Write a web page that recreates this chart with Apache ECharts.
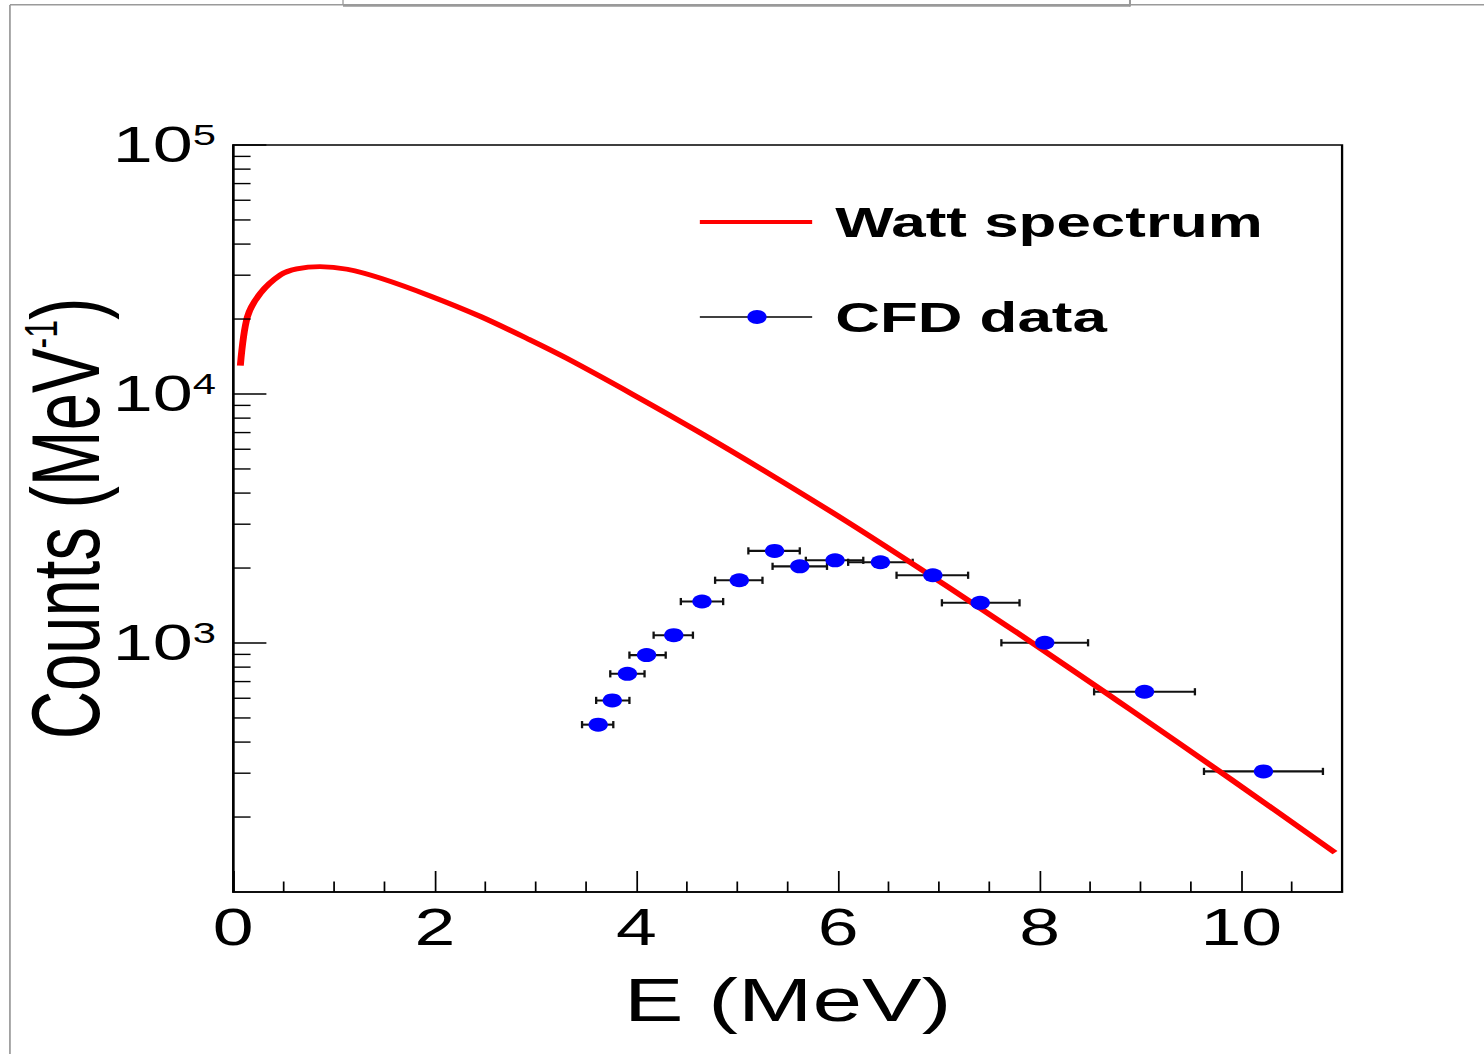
<!DOCTYPE html>
<html><head><meta charset="utf-8">
<script src="https://cdn.jsdelivr.net/npm/echarts@6/dist/echarts.min.js"></script>
<style>
html,body{margin:0;padding:0;background:#fff;overflow:hidden;}
#wrap{width:1484px;height:1054px;overflow:hidden;position:relative;background:#fff;}
#chart{width:1031px;height:1054px;transform:scaleX(1.44);transform-origin:0 0;}
</style></head><body><div id="wrap"><div id="chart"></div></div>
<script>
// ---- data ----
const wattE      = [0.07, 0.14, 0.27, 0.47, 0.63, 0.86, 1.13, 1.46, 1.95, 2.45, 2.93, 3.31, 3.97, 4.63, 5.30, 6.09, 6.78, 7.41, 7.91, 8.67, 8.90, 9.89, 10.93];
const wattCounts = [13000, 20400, 25400, 30100, 31800, 32500, 31700, 29200, 24800, 20500, 16600, 13900, 9930, 7000, 4830, 3070, 2030, 1380, 1012, 625, 540, 285, 144];

const cfdE      = [3.62, 3.76, 3.91, 4.10, 4.37, 4.65, 5.02, 5.37, 5.62, 5.97, 6.42, 6.94, 7.41, 8.05, 9.04, 10.22];
const cfdCounts = [470, 588, 752, 894, 1075, 1467, 1786, 2344, 2032, 2148, 2109, 1871, 1450, 1002, 637, 305];
const cfdELow   = [3.46, 3.60, 3.74, 3.93, 4.17, 4.44, 4.78, 5.11, 5.35, 5.68, 6.10, 6.58, 7.03, 7.62, 8.54, 9.63];
const cfdEHigh  = [3.77, 3.93, 4.08, 4.29, 4.56, 4.86, 5.25, 5.62, 5.89, 6.25, 6.74, 7.29, 7.80, 8.48, 9.54, 10.81];

const xTickLabels = [0, 2, 4, 6, 8, 10];
const yTickExponents = [3, 4, 5];
const xMinorTicks = [0.5, 1, 1.5, 2.5, 3, 3.5, 4.5, 5, 5.5, 6.5, 7, 7.5, 8.5, 9, 9.5, 10.5];
const yMinorTicks = [200, 300, 400, 500, 600, 700, 800, 900,
                     2000, 3000, 4000, 5000, 6000, 7000, 8000, 9000,
                     20000, 30000, 40000, 50000, 60000, 70000, 80000, 90000];

// ---- chart ----
const FONT = '"Liberation Sans", Arial, Helvetica, sans-serif';
const X_MIN = 0, X_MAX = 11, Y_MIN = 100, Y_MAX = 100000;
const chart = echarts.init(document.getElementById('chart'), null, {renderer: 'svg'});

const option = {
  animation: false,
  backgroundColor: '#fff',
  grid: {left: 162, right: 99, top: 145, bottom: 162, show: true, borderColor: '#000', borderWidth: 1.6,
         containLabel: false, outerBoundsMode: 'none'},
  xAxis: {
    type: 'value', min: X_MIN, max: X_MAX, interval: 2,
    name: 'E (MeV)', nameLocation: 'middle', nameGap: 76, nameMoveOverlap: false,
    nameTextStyle: {fontFamily: FONT, fontSize: 62, color: '#000'},
    axisLine: {show: true, lineStyle: {color: '#000', width: 1.6}},
    axisTick: {show: true, inside: true, length: 21, lineStyle: {color: '#000', width: 1.2}},
    splitLine: {show: false},
    axisLabel: {
      show: true, margin: 10, color: '#000', fontFamily: FONT, fontSize: 51,
      showMaxLabel: false,
      formatter: v => xTickLabels.includes(v) ? String(v) : ''
    }
  },
  yAxis: {
    type: 'log', logBase: 10, min: Y_MIN, max: Y_MAX,
    name: '{a|Counts (MeV}{s|-1}{a|)}', nameLocation: 'middle', nameRotate: 90, nameGap: 83, nameMoveOverlap: false,
    nameTextStyle: {
      color: '#000',
      rich: {
        a: {fontFamily: FONT, fontSize: 67, lineHeight: 67, verticalAlign: 'bottom', color: '#000'},
        s: {fontFamily: FONT, fontSize: 32, lineHeight: 40, padding: [0, 0, 53, 0], verticalAlign: 'top', color: '#000'}
      }
    },
    axisLine: {show: true, lineStyle: {color: '#000', width: 1.6}},
    axisTick: {show: true, inside: true, length: 23, lineStyle: {color: '#000', width: 1.5}},
    splitLine: {show: false},
    axisLabel: {
      show: true, margin: 12, showMinLabel: false,
      formatter: v => {
        const e = Math.round(Math.log10(v));
        return yTickExponents.includes(e) ? '{a|10}{s|' + e + '}' : '';
      },
      rich: {
        a: {fontFamily: FONT, fontSize: 50, lineHeight: 50, verticalAlign: 'bottom', color: '#000'},
        s: {fontFamily: FONT, fontSize: 29, lineHeight: 36, padding: [0, 0, 25, 0], verticalAlign: 'top', color: '#000'}
      }
    }
  },
  legend: {
    orient: 'vertical', left: 486, top: 197, padding: 0,
    itemWidth: 78, itemHeight: 14, itemGap: 45,
    selectedMode: false,
    textStyle: {fontFamily: FONT, fontSize: 43, fontWeight: 'bold', color: '#000', lineHeight: 50, padding: [0, 0, 0, 11]},
    data: [{name: 'Watt spectrum', icon: 'none'}, {name: 'CFD data', icon: 'none'}]
  },
  graphic: [
    // canvas frame remnants
    {type: 'line', silent: true, z: 100, shape: {x1: 6.9, y1: 5, x2: 6.9, y2: 1060}, style: {stroke: '#9a9a9a', lineWidth: 1.2}},
    {type: 'line', silent: true, z: 100, shape: {x1: 6.9, y1: 4.8, x2: 1031, y2: 4.8}, style: {stroke: '#9a9a9a', lineWidth: 1.4}},
    {type: 'line', silent: true, z: 101, shape: {x1: 238.2, y1: 5.6, x2: 784.7, y2: 5.6}, style: {stroke: '#9a9a9a', lineWidth: 2.4}},
    {type: 'line', silent: true, z: 101, shape: {x1: 238.2, y1: 0, x2: 238.2, y2: 5}, style: {stroke: '#9a9a9a', lineWidth: 0.9}},
    {type: 'line', silent: true, z: 101, shape: {x1: 784.7, y1: 0, x2: 784.7, y2: 6.6}, style: {stroke: '#9a9a9a', lineWidth: 1.4}},
    // legend keys
    {type: 'line', silent: true, z: 100, shape: {x1: 486, y1: 222, x2: 564, y2: 222}, style: {stroke: '#ff0000', lineWidth: 4}},
    {type: 'line', silent: true, z: 100, shape: {x1: 486, y1: 317, x2: 564, y2: 317}, style: {stroke: '#000', lineWidth: 1.3}},
    {type: 'ellipse', silent: true, z: 101, shape: {cx: 525.7, cy: 317, rx: 6.7, ry: 7}, style: {fill: '#0000ff'}}
  ],
  series: [
    {
      name: 'xMinor', type: 'custom', silent: true, z: 5, clip: false,
      data: xMinorTicks.map(v => [v, Y_MIN]),
      encode: {x: 0, y: 1},
      renderItem: (params, api) => {
        const p = api.coord([api.value(0), api.value(1)]);
        return {type: 'line', shape: {x1: p[0], y1: p[1], x2: p[0], y2: p[1] - 10.5}, style: {stroke: '#000', lineWidth: 1.2}};
      }
    },
    {
      name: 'yMinor', type: 'custom', silent: true, z: 5, clip: false,
      data: yMinorTicks.map(v => [X_MIN, v]),
      encode: {x: 0, y: 1},
      renderItem: (params, api) => {
        const p = api.coord([api.value(0), api.value(1)]);
        return {type: 'line', shape: {x1: p[0], y1: p[1], x2: p[0] + 12, y2: p[1]}, style: {stroke: '#000', lineWidth: 1.4}};
      }
    },
    {
      name: 'CFD errors', type: 'custom', silent: true, z: 2, clip: false,
      data: cfdE.map((e, i) => [e, cfdCounts[i], cfdELow[i], cfdEHigh[i]]),
      encode: {x: [0, 2, 3], y: 1},
      renderItem: (params, api) => {
        const y = api.value(1);
        const a = api.coord([api.value(2), y]);
        const b = api.coord([api.value(3), y]);
        const st = {stroke: '#111', lineWidth: 2.1};
        const cs = {stroke: '#111', lineWidth: 1.6};
        return {type: 'group', children: [
          {type: 'line', shape: {x1: a[0], y1: a[1], x2: b[0], y2: b[1]}, style: st},
          {type: 'line', shape: {x1: a[0], y1: a[1] - 3.6, x2: a[0], y2: a[1] + 3.6}, style: cs},
          {type: 'line', shape: {x1: b[0], y1: b[1] - 3.6, x2: b[0], y2: b[1] + 3.6}, style: cs}
        ]};
      }
    },
    {
      name: 'Watt spectrum', type: 'line', z: 3,
      data: wattE.map((e, i) => [e, wattCounts[i]]),
      symbol: 'none', showSymbol: false, smooth: 0.3,
      lineStyle: {color: '#ff0000', width: 4.8},
      itemStyle: {color: '#ff0000'}
    },
    {
      name: 'CFD data', type: 'scatter', z: 4,
      data: cfdE.map((e, i) => [e, cfdCounts[i]]),
      symbol: 'circle', symbolSize: [13.5, 14],
      itemStyle: {color: '#0000ff', opacity: 1}
    }
  ]
};
chart.setOption(option);
</script>
</body></html>
